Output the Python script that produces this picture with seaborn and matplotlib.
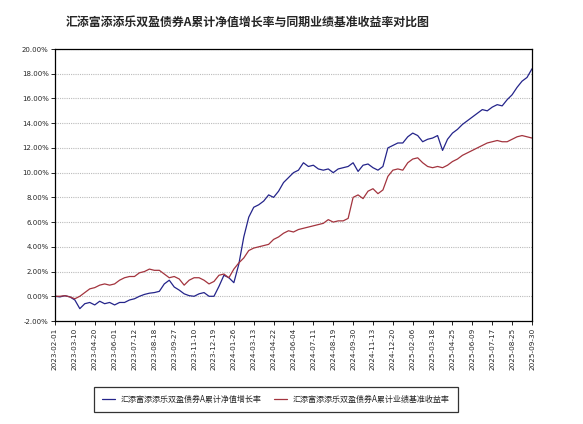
import numpy as np
import pandas as pd
import matplotlib
matplotlib.use("Agg")
import matplotlib.pyplot as plt
import seaborn as sns

# DATA (values in %, sampled at even steps, 4 samples per tick label)

title = "汇添富添添乐双盈债券A累计净值增长率与同期业绩基准收益率对比图"
nav_name = "汇添富添添乐双盈债券A累计净值增长率"
bench_name = "汇添富添添乐双盈债券A累计业绩基准收益率"

tick_labels = [
    "2023-02-01", "2023-03-10", "2023-04-20", "2023-06-01", "2023-07-12",
    "2023-08-18", "2023-09-27", "2023-11-10", "2023-12-19", "2024-01-26",
    "2024-03-13", "2024-04-22", "2024-06-04", "2024-07-11", "2024-08-19",
    "2024-09-30", "2024-11-13", "2024-12-20", "2025-02-06", "2025-03-18",
    "2025-04-25", "2025-06-09", "2025-07-17", "2025-08-25", "2025-09-30",
]

nav_values = [
    0.0, -0.05, 0.05, -0.05, -0.3, -1.0, -0.6, -0.5, -0.7, -0.4,
    -0.6, -0.5, -0.7, -0.5, -0.5, -0.3, -0.2, 0.0, 0.15, 0.25,
    0.3, 0.4, 1.0, 1.3, 0.75, 0.5, 0.2, 0.05, 0.0, 0.2,
    0.3, 0.0, 0.0, 0.8, 1.7, 1.5, 1.1, 2.6, 4.8, 6.4,
    7.2, 7.4, 7.7, 8.2, 8.0, 8.5, 9.2, 9.6, 10.0, 10.2,
    10.8, 10.5, 10.6, 10.3, 10.2, 10.3, 10.0, 10.3, 10.4, 10.5,
    10.8, 10.1, 10.6, 10.7, 10.4, 10.2, 10.5, 12.0, 12.2, 12.4,
    12.4, 12.9, 13.2, 13.0, 12.5, 12.7, 12.8, 13.0, 11.8, 12.7,
    13.2, 13.5, 13.9, 14.2, 14.5, 14.8, 15.1, 15.0, 15.3, 15.5,
    15.4, 15.9, 16.3, 16.9, 17.4, 17.7, 18.4,
]

bench_values = [
    0.0, 0.0, 0.05, -0.05, -0.2, 0.0, 0.3, 0.6, 0.7, 0.9,
    1.0, 0.9, 1.0, 1.3, 1.5, 1.6, 1.6, 1.9, 2.0, 2.2,
    2.1, 2.1, 1.8, 1.5, 1.6, 1.4, 0.9, 1.3, 1.5, 1.5,
    1.3, 1.0, 1.2, 1.7, 1.8, 1.5, 2.2, 2.7, 3.1, 3.7,
    3.9, 4.0, 4.1, 4.2, 4.6, 4.8, 5.1, 5.3, 5.2, 5.4,
    5.5, 5.6, 5.7, 5.8, 5.9, 6.2, 6.0, 6.1, 6.1, 6.3,
    8.0, 8.2, 7.9, 8.5, 8.7, 8.3, 8.6, 9.7, 10.2, 10.3,
    10.2, 10.8, 11.1, 11.2, 10.8, 10.5, 10.4, 10.5, 10.4, 10.6,
    10.9, 11.1, 11.4, 11.6, 11.8, 12.0, 12.2, 12.4, 12.5, 12.6,
    12.5, 12.5, 12.7, 12.9, 13.0, 12.9, 12.8,
]

df = pd.DataFrame({
    "step": np.arange(len(nav_values)),
    "nav": nav_values,
    "bench": bench_values,
})

# PLOT

sns.set_style("white")
plt.rcParams["font.family"] = ["Noto Sans CJK SC", "DejaVu Sans"]

fig = plt.figure(figsize=(5.83, 4.24), dpi=100)
ax = fig.add_axes([0.0943, 0.2429, 0.8182, 0.6415])

sns.lineplot(data=df, x="step", y="nav", ax=ax, color="#24248a",
             linewidth=0.9, label=nav_name)
sns.lineplot(data=df, x="step", y="bench", ax=ax, color="#a3343e",
             linewidth=0.9, label=bench_name)

ax.set_xlim(0, len(nav_values) - 1)
ax.set_ylim(-2, 20)
ax.set_yticks(np.arange(-2, 21, 2))
ax.set_yticklabels([f"{v:.2f}%" for v in np.arange(-2, 21, 2)],
                   fontsize=5, family="DejaVu Sans")
ax.set_xticks(np.arange(0, len(nav_values), 4))
ax.set_xticklabels(tick_labels, rotation=90, fontsize=5.2, family="DejaVu Sans")
ax.tick_params(axis="both", direction="out", length=3, width=0.6,
               color="black", pad=1.5, bottom=True, left=True)
ax.set_xlabel("")
ax.set_ylabel("")

ax.yaxis.grid(True, color="#bbbbbb", linestyle=(0, (1, 1)), linewidth=0.8)
ax.xaxis.grid(False)
for s in ax.spines.values():
    s.set_color("black")
    s.set_linewidth(0.9)

fig.text(0.425, 0.948, title, ha="center", va="center",
         fontsize=8.6, fontweight="bold")

ax.legend(loc="center left", bbox_to_anchor=(0.073, -0.287),
          ncol=2, fontsize=5.8, frameon=True, fancybox=False,
          edgecolor="black", handlelength=1.6, handletextpad=0.7,
          columnspacing=1.6, borderpad=1.0)
ax.get_legend().get_frame().set_linewidth(0.9)

fig.savefig("out.png", dpi=100)
